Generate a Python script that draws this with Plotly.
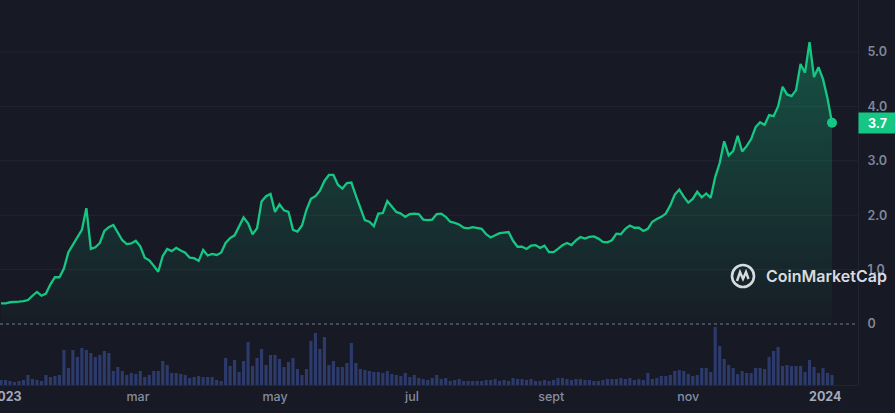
import pandas as pd
import plotly.graph_objects as go

# sampled every two days, 2022-12-30 .. 2024-01-04
dates = pd.date_range("2022-12-30", periods=186, freq="2D")

price = [
    0.38, 0.38, 0.40, 0.40, 0.41, 0.42, 0.44, 0.52, 0.59, 0.52,
    0.56, 0.73, 0.86, 0.86, 1.02, 1.32, 1.46, 1.60, 1.73, 2.13,
    1.38, 1.41, 1.49, 1.71, 1.78, 1.82, 1.68, 1.54, 1.47, 1.48,
    1.53, 1.43, 1.22, 1.17, 1.07, 0.96, 1.25, 1.38, 1.34, 1.40,
    1.35, 1.31, 1.22, 1.21, 1.16, 1.36, 1.26, 1.29, 1.27, 1.31,
    1.49, 1.58, 1.63, 1.80, 1.96, 1.85, 1.65, 1.76, 2.25, 2.35,
    2.39, 2.06, 2.20, 2.09, 2.06, 1.73, 1.70, 1.81, 2.10, 2.30,
    2.35, 2.45, 2.63, 2.74, 2.74, 2.56, 2.49, 2.59, 2.60, 2.36,
    2.15, 1.91, 1.88, 1.80, 2.03, 2.04, 2.26, 2.15, 2.06, 2.03,
    1.97, 2.02, 2.03, 2.02, 1.92, 1.91, 1.92, 2.02, 2.03, 1.97,
    1.88, 1.86, 1.83, 1.77, 1.76, 1.78, 1.76, 1.75, 1.65, 1.59,
    1.63, 1.67, 1.68, 1.69, 1.53, 1.42, 1.42, 1.38, 1.44, 1.45,
    1.40, 1.44, 1.32, 1.32, 1.38, 1.45, 1.49, 1.45, 1.54, 1.60,
    1.57, 1.60, 1.61, 1.57, 1.51, 1.50, 1.54, 1.66, 1.65, 1.75,
    1.81, 1.77, 1.77, 1.71, 1.75, 1.88, 1.93, 1.97, 2.03, 2.18,
    2.38, 2.47, 2.34, 2.23, 2.30, 2.43, 2.33, 2.40, 2.32, 2.70,
    2.96, 3.36, 3.10, 3.18, 3.46, 3.17, 3.27, 3.40, 3.62, 3.71,
    3.66, 3.84, 3.82, 4.00, 4.36, 4.22, 4.19, 4.30, 4.78, 4.62,
    5.18, 4.54, 4.72, 4.50, 4.15, 3.70,
]

# volume, arbitrary units (only relative heights are shown)
volume = [
    5, 5, 4, 3, 4, 5, 10, 6, 5, 4,
    10, 8, 9, 10, 35, 17, 35, 28, 37, 35,
    32, 28, 30, 34, 32, 14, 18, 14, 10, 12,
    11, 14, 8, 10, 14, 14, 24, 20, 12, 12,
    11, 10, 7, 8, 9, 8, 8, 8, 5, 4,
    27, 19, 25, 13, 24, 43, 19, 27, 36, 20,
    30, 30, 26, 18, 23, 27, 16, 10, 16, 44,
    52, 36, 48, 20, 24, 18, 18, 22, 42, 22,
    16, 15, 14, 13, 13, 12, 14, 11, 10, 9,
    12, 8, 10, 7, 6, 5, 7, 10, 6, 7,
    4, 5, 6, 4, 4, 4, 4, 4, 5, 5,
    6, 4, 5, 4, 7, 6, 6, 5, 6, 4,
    4, 5, 4, 5, 7, 7, 6, 5, 6, 6,
    5, 5, 4, 4, 5, 6, 6, 6, 7, 6,
    7, 5, 6, 5, 12, 6, 7, 9, 9, 10,
    14, 15, 14, 11, 9, 10, 17, 17, 13, 58,
    39, 26, 20, 17, 11, 14, 12, 12, 17, 17,
    16, 28, 34, 38, 19, 20, 19, 19, 19, 13,
    25, 18, 12, 17, 12, 10,
]

y_ticks = [0, 1, 2, 3, 4, 5]
y_labels = ["0", "1.0", "2.0", "3.0", "4.0", "5.0"]
x_ticks = ["2023-01-01", "2023-03-01", "2023-05-01", "2023-07-01",
           "2023-09-01", "2023-11-01", "2024-01-01"]
x_labels = ["<span style='color:#a3aabb'><b>2023</b></span>", "mar", "may", "jul", "sept", "nov",
            "<span style='color:#a3aabb'><b>2024</b></span>"]

GREEN = "#16c784"
BG = "#171924"
GRID = "#222531"

fig = go.Figure()

fig.add_trace(go.Bar(x=dates, y=volume, yaxis="y2", marker_color="#2c3a6c",
                     marker_line_width=0, hoverinfo="skip"))

fig.add_trace(go.Scatter(
    x=dates, y=price, mode="lines",
    line=dict(color=GREEN, width=2.3),
    fill="tozeroy",
    fillgradient=dict(type="vertical", start=0, stop=5.2,
                      colorscale=[[0, "rgba(22,199,132,0.02)"],
                                  [1, "rgba(22,199,132,0.33)"]]),
))
fig.add_trace(go.Scatter(x=[dates[-1]], y=[price[-1]], mode="markers",
                         marker=dict(color=GREEN, size=10)))

for v in y_ticks[1:]:
    fig.add_hline(y=v, line=dict(color=GRID, width=1), layer="below")
fig.add_hline(y=0, line=dict(color="rgba(160,165,180,0.7)", width=1, dash="dot"),
              layer="below")

# last price badge
fig.add_annotation(xref="paper", x=1, xanchor="left", yref="y", y=price[-1],
                   text="<b>%.1f</b>" % price[-1], showarrow=False,
                   bgcolor=GREEN, width=35, height=18, borderpad=1,
                   font=dict(family="Inter", size=12.5, color="white"))

# watermark
fig.add_shape(type="circle", xref="paper", yref="paper",
              xsizemode="pixel", ysizemode="pixel",
              xanchor=743 / 858, yanchor=109 / 385,
              x0=-11, x1=11, y0=-11, y1=11,
              line=dict(color="rgba(235,238,245,0.9)", width=2.6))
fig.add_shape(type="path", xref="paper", yref="paper",
              xsizemode="pixel", ysizemode="pixel",
              xanchor=743 / 858, yanchor=109 / 385,
              path="M -6,-5 L -3,4 L 0,-3 L 3,4 L 5.5,-3",
              line=dict(color="rgba(235,238,245,0.9)", width=2.4))
fig.add_annotation(xref="paper", x=764 / 858, xanchor="left",
                   yref="paper", y=109 / 385, yanchor="middle",
                   text="CoinMarketCap", showarrow=False,
                   font=dict(family="Inter", size=16, weight=600,
                             color="rgba(235,238,245,0.92)"))

fig.update_layout(
    width=895, height=413,
    margin=dict(l=0, r=37, t=0, b=28, pad=0),
    paper_bgcolor=BG, plot_bgcolor=BG,
    showlegend=False, bargap=0.3,
    font=dict(family="Inter", color="#858ca2"),
    xaxis=dict(range=["2022-12-29 13:00", "2024-01-15 14:00"],
               tickvals=x_ticks, ticktext=x_labels,
               showgrid=False, zeroline=False, automargin=False,
               showline=True, linecolor=GRID, ticks="",
               ticklabeloverflow="allow",
               tickfont=dict(size=12.5, weight=500, color="#858ca2")),
    yaxis=dict(range=[-1.121, 5.956], side="right",
               tickvals=y_ticks, ticktext=y_labels,
               showgrid=False, zeroline=False, automargin=False,
               showline=True, linecolor=GRID, ticks="",
               ticklabelstandoff=6,
               tickfont=dict(size=12.5, weight=600, color="#80879a")),
    yaxis2=dict(range=[0, 385], overlaying="y", visible=False),
)

# page body has a default 8px margin; drop it so the chart fills the window
fig.write_html("out.html", config={"displayModeBar": False},
               post_script="document.body.style.margin='0';")
